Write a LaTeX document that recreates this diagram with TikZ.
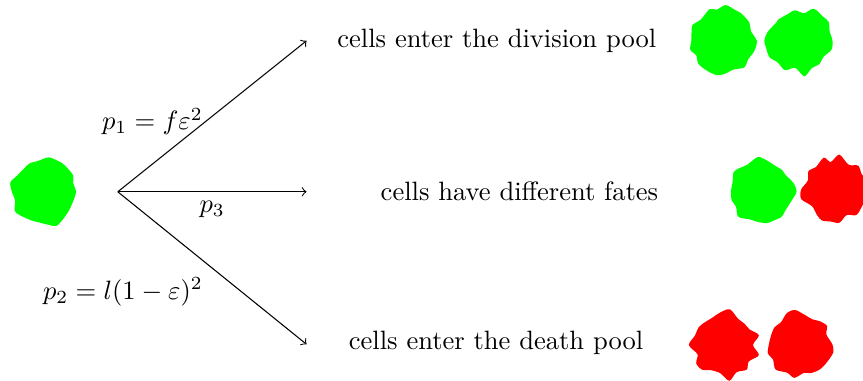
\documentclass[tikz,border=0pt]{standalone}
\usepackage{amsmath,amssymb}
\usepackage{tikz}
\usetikzlibrary{arrows.meta,positioning,calc}
\definecolor{cellgreen}{RGB}{0,255,0}
\definecolor{cellred}{RGB}{255,0,0}

% a wobbly cell: x, y, colour, seed, size
\newcommand{\cellblob}[5]{%
  \pgfmathsetseed{#4}%
  \fill[#3,shift={(#1,#2)},scale=#5] plot[smooth cycle,tension=0.5,samples=22,domain=0:343.6] (\x:{0.36+0.12*rnd});
}

\begin{document}
\begin{tikzpicture}[>=to]
\useasboundingbox (-1.56,-2.50) rectangle (9.87,2.54);
\coordinate (o) at (0,0);
\coordinate (up) at (2.5,2);
\coordinate (mid) at (2.5,0);
\coordinate (down) at (2.5,-2.02);
\draw[->] (o) -- (up) node[midway,left,yshift=-2pt]{$p_1 = f\varepsilon^2$};
\draw[->] (o) -- (mid) node[midway,below]{$p_3$};
\draw[->] (o) -- (down) node[midway,below left]{$p_2 = l(1-\varepsilon)^2$};
\node (divide) at (5.02,2) {cells enter the division pool};
\node (fates) at (5.32,0) {cells have different fates};
\node (death) at (5.01,-2) {cells enter the death pool};
\foreach \cx/\cy/\col/\sd/\sz in {-0.98/0/cellgreen/11/1.06, 7.99/2/cellgreen/23/1, 9.03/2/cellgreen/37/1,
    8.53/0/cellgreen/41/1, 9.50/0.03/cellred/53/1, 8.04/-2.03/cellred/67/1, 9.02/-2.02/cellred/79/1}{
    \cellblob{\cx}{\cy}{\col}{\sd}{\sz}
}
\end{tikzpicture}
\end{document}
